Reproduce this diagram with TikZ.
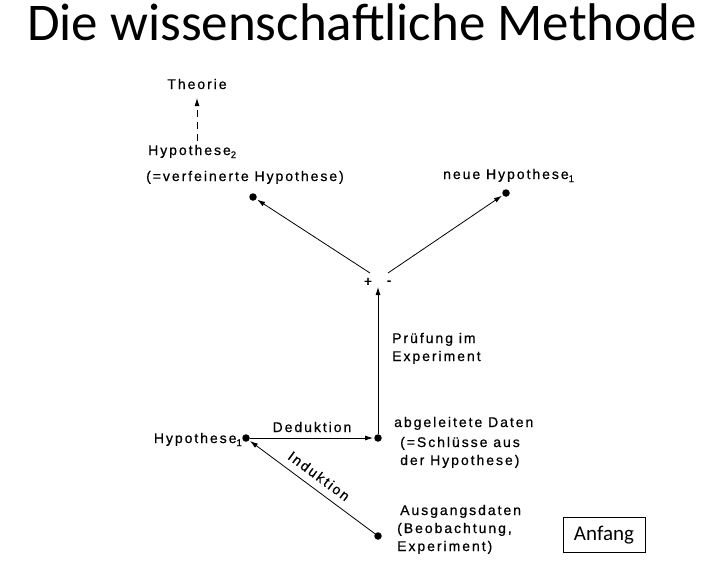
\documentclass[tikz,border=0pt]{standalone}
\usepackage{fontspec}
\setmainfont{Liberation Sans}
\newfontfamily\titlefont{Carlito}
\newfontfamily\dfont[LetterSpace=14,FakeBold=0.6]{Liberation Sans}
\usetikzlibrary{arrows.meta}
\newcommand{\subsc}[1]{\raisebox{-3pt}{\fontsize{9.5}{9.5}\selectfont #1}}
\begin{document}
\begin{tikzpicture}[x=1pt,y=-1pt,
  lbl/.style={font=\dfont\fontsize{14}{17}\selectfont, inner sep=0pt},
  dot/.style={circle, fill=black, inner sep=0pt, minimum size=7.5pt},
  conn/.style={line width=0.8pt, -{Latex[length=8pt,width=5pt]}, shorten >=1pt}]
\useasboundingbox[fill=white] (0,0) rectangle (719,565);
\node[font=\titlefont\fontsize{53}{56}\selectfont, inner sep=0pt, anchor=base] (title) at (362,40) {Die wissenschaftliche Methode};

% dots
\node[dot] (h2) at (253,197) {};
\node[dot] (nh) at (506,193) {};
\node[dot] (h1) at (246,438) {};
\node[dot] (ad) at (378,438) {};
\node[dot] (ag) at (378,536) {};
\coordinate (j) at (378,286);
\coordinate (jl) at (370,273);
\coordinate (jr) at (388,273);

% labels
\node[lbl, anchor=base] (theo) at (197,89) {Theorie};
\node[lbl, anchor=base west] (h2t) at (148,155) {Hypothese\subsc{2}};
\node[lbl, anchor=base west] (h2b) at (146,181) {(=verfeinerte Hypothese)};
\node[lbl, anchor=base west] (nht) at (443,179) {neue Hypothese\subsc{1}};
\node[lbl, anchor=base] (plus) at (368,286) {+};
\node[lbl, anchor=base] (minus) at (389,285) {-};
\node[lbl, anchor=base west] (pr1) at (392,343) {Prüfung im};
\node[lbl, anchor=base west] (pr2) at (392,361) {Experiment};
\node[lbl, anchor=base] (ded) at (312,432) {Deduktion};
\node[lbl, anchor=base east] (h1t) at (242,443) {Hypothese\subsc{1}};
\node[lbl, anchor=base west] (adt1) at (394,427) {abgeleitete Daten};
\node[lbl, anchor=base west] (adt2) at (400,447) {(=Schlüsse aus};
\node[lbl, anchor=base west] (adt3) at (400,465) {der Hypothese)};
\node[lbl, anchor=base west] (ag1) at (400,515) {Ausgangsdaten};
\node[lbl, anchor=base west] (ag2) at (397,533) {(Beobachtung,};
\node[lbl, anchor=base west] (ag3) at (397,551) {Experiment)};
\node[lbl, rotate=-36.6] (ind) at (319,476) {Induktion};
\node[draw, line width=0.8pt, font=\titlefont\fontsize{21}{24}\selectfont, minimum width=82pt, minimum height=35pt, inner sep=0pt] (anf) at (604,535) {Anfang};

% connectors
\draw[conn, dashed, dash pattern=on 7pt off 5pt] (197,141) -- (theo.north |- 0,97);
\draw[conn] (jl) -- (h2);
\draw[conn] (jr) -- (nh);
\draw[conn] (ad) -- (j);
\draw[conn] (h1) -- (ad);
\draw[conn] (ag) -- (h1);
\end{tikzpicture}
\end{document}
